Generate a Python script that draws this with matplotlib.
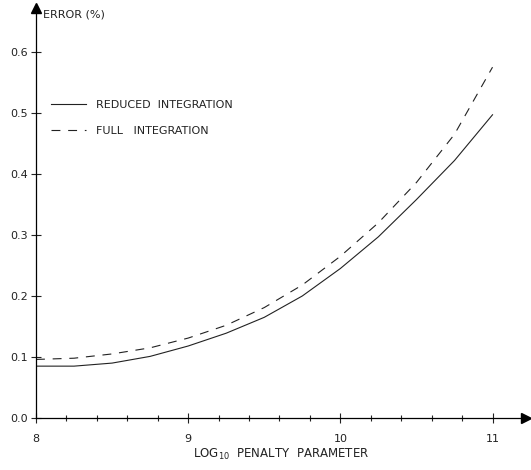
import matplotlib.pyplot as plt
from matplotlib.ticker import MultipleLocator

# Data
log_penalty = [8, 8.25, 8.5, 8.75, 9, 9.25, 9.5, 9.75, 10, 10.25, 10.5, 10.75, 11]
reduced_err = [0.085, 0.085, 0.090, 0.101, 0.118, 0.139, 0.165, 0.200, 0.245, 0.297, 0.358, 0.422, 0.497]
full_err = [0.096, 0.098, 0.105, 0.115, 0.131, 0.152, 0.181, 0.218, 0.265, 0.320, 0.386, 0.465, 0.575]
x_ticks = [8, 9, 10, 11]
y_ticks = [0.0, 0.1, 0.2, 0.3, 0.4, 0.5, 0.6]

plt.rcParams['font.family'] = 'DejaVu Sans'
fig = plt.figure(figsize=(5.31, 4.70), dpi=100)
ax = fig.add_axes([36 / 531, 52 / 470, 490 / 531, 410 / 470])

ax.plot(log_penalty, reduced_err, color='#222222', lw=0.8, label='REDUCED  INTEGRATION')
ax.plot(log_penalty, full_err, color='#222222', lw=0.8, ls=(0, (8, 7)), label='FULL   INTEGRATION')

ax.set_xlim(8, 11.22)
ax.set_ylim(0, 0.672)

for s in ['top', 'right']:
    ax.spines[s].set_visible(False)
for s in ['left', 'bottom']:
    ax.spines[s].set_linewidth(0.9)

# arrow heads on axes
ax.plot(1, 0, '>', color='black', ms=7, transform=ax.transAxes, clip_on=False)
ax.plot(0, 1, '^', color='black', ms=7, transform=ax.transAxes, clip_on=False)

ax.set_xticks(x_ticks)
ax.set_yticks(y_ticks)
ax.set_yticklabels([f'{v:.1f}' for v in y_ticks])
ax.xaxis.set_minor_locator(MultipleLocator(0.2))
ax.tick_params(axis='both', which='both', direction='inout', width=0.8, labelsize=8, colors='#222222')
ax.tick_params(axis='both', which='major', length=7)
ax.tick_params(axis='x', which='minor', length=5)
ax.tick_params(axis='x', pad=8)
ax.tick_params(axis='y', pad=2)

ax.text(0.015, 0.983, 'ERROR (%)', transform=ax.transAxes, fontsize=8, va='center', ha='left', color='#222222')
ax.set_xlabel('LOG$_{10}$  PENALTY  PARAMETER', fontsize=8.5, color='#222222', labelpad=2)

ax.legend(loc='upper left', bbox_to_anchor=(0.01, 0.80), frameon=False, fontsize=8,
          handlelength=3.2, handletextpad=0.9, labelspacing=1.4, labelcolor='#222222')

fig.savefig('out.png', dpi=100)
